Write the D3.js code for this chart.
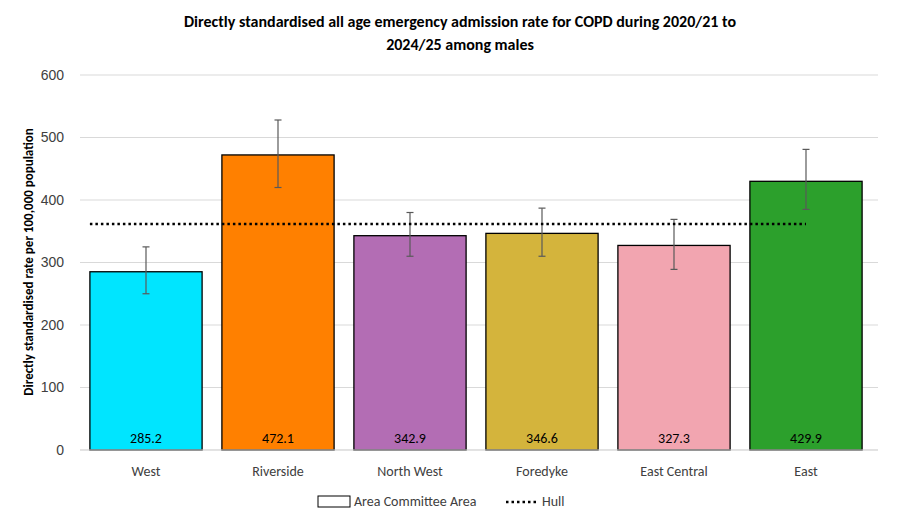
<!DOCTYPE html>
<html><head><meta charset="utf-8">
<script src="https://cdn.jsdelivr.net/npm/d3@7"></script>
<style>body{margin:0;background:#fff;font-family:Calibri,Carlito,"Liberation Sans",Arial,sans-serif}</style>
</head><body><svg id="c" width="920" height="524"></svg>
<script>
const categories=["West","Riverside","North West","Foredyke","East Central","East"];
const values=[285.2,472.1,342.9,346.6,327.3,429.9];
const lower=[250,420,310,310,289,385];
const upper=[325,528,380,387,369,481];
const colors=["#00e5ff","#ff8000","#b36db4","#d4b43c","#f2a5b0","#2ca02c"];
const hull=361.6;
const yTicks=[0,100,200,300,400,500,600];

const svg=d3.select("#c");
const m={l:80,r:42,t:75,b:74};
const W=920,H=524;
const x=d3.scaleBand().domain(categories).range([m.l,W-m.r-(872-878)]).paddingInner(0.15).paddingOuter(0.075);
x.range([80,872]);
const y=d3.scaleLinear().domain([0,600]).range([450,75]);

svg.append("g").selectAll("line").data(yTicks).join("line")
 .attr("x1",80).attr("x2",878).attr("y1",d=>y(d)).attr("y2",d=>y(d))
 .attr("stroke","#d9d9d9").attr("stroke-width",1);
const ya=svg.append("g").attr("transform","translate(80,0)").call(d3.axisLeft(y).tickValues(yTicks).tickSize(0).tickPadding(16));
ya.select(".domain").remove();
ya.selectAll("text").attr("font-size",14).attr("fill","#404040").style("font-family","inherit");

svg.append("g").selectAll("rect").data(values).join("rect")
 .attr("x",(d,i)=>x(categories[i])).attr("width",x.bandwidth())
 .attr("y",d=>y(d)).attr("height",d=>450-y(d))
 .attr("fill",(d,i)=>colors[i]).attr("stroke","#000").attr("stroke-width",1.3);

const eb=svg.append("g").attr("stroke","#595959").attr("stroke-width",1.2);
categories.forEach((c,i)=>{
 const cx=x(c)+x.bandwidth()/2;
 eb.append("line").attr("x1",cx).attr("x2",cx).attr("y1",y(lower[i])).attr("y2",y(upper[i]));
 eb.append("line").attr("x1",cx-3.5).attr("x2",cx+3.5).attr("y1",y(lower[i])).attr("y2",y(lower[i]));
 eb.append("line").attr("x1",cx-3.5).attr("x2",cx+3.5).attr("y1",y(upper[i])).attr("y2",y(upper[i]));
});

svg.append("line").attr("x1",x(categories[0])).attr("x2",x(categories[5])+x.bandwidth()/2)
 .attr("y1",y(hull)).attr("y2",y(hull)).attr("stroke","#000").attr("stroke-width",2.5).attr("stroke-dasharray","2.5,3");

svg.append("g").selectAll("text").data(values).join("text")
 .attr("x",(d,i)=>x(categories[i])+x.bandwidth()/2).attr("y",443)
 .attr("text-anchor","middle").attr("font-size",14).attr("fill","#000").text(d=>d.toFixed(1));

svg.append("line").attr("x1",80).attr("x2",878).attr("y1",450).attr("y2",450).attr("stroke","#d9d9d9");
svg.append("g").selectAll("text").data(categories).join("text")
 .attr("x",d=>x(d)+x.bandwidth()/2).attr("y",476).attr("text-anchor","middle")
 .attr("font-size",14).attr("fill","#404040").text(d=>d);

svg.append("text").attr("x",460).attr("y",27).attr("text-anchor","middle").attr("font-size",16).attr("font-weight","bold")
 .text("Directly standardised all age emergency admission rate for COPD during 2020/21 to");
svg.append("text").attr("x",460).attr("y",50).attr("text-anchor","middle").attr("font-size",16).attr("font-weight","bold")
 .text("2024/25 among males");
svg.append("text").attr("transform","translate(33,262) rotate(-90)").attr("text-anchor","middle")
 .attr("font-size",13).attr("font-weight","bold").attr("fill","#000").text("Directly standardised rate per 100,000 population");

svg.append("rect").attr("x",318).attr("y",496).attr("width",32).attr("height",11).attr("fill","#fff").attr("stroke","#000");
svg.append("text").attr("x",354).attr("y",506).attr("font-size",14).attr("fill","#404040").text("Area Committee Area");
svg.append("line").attr("x1",506).attr("x2",538).attr("y1",502).attr("y2",502).attr("stroke","#000").attr("stroke-width",2.5).attr("stroke-dasharray","2.5,3");
svg.append("text").attr("x",542).attr("y",506).attr("font-size",14).attr("fill","#404040").text("Hull");
</script></body></html>
